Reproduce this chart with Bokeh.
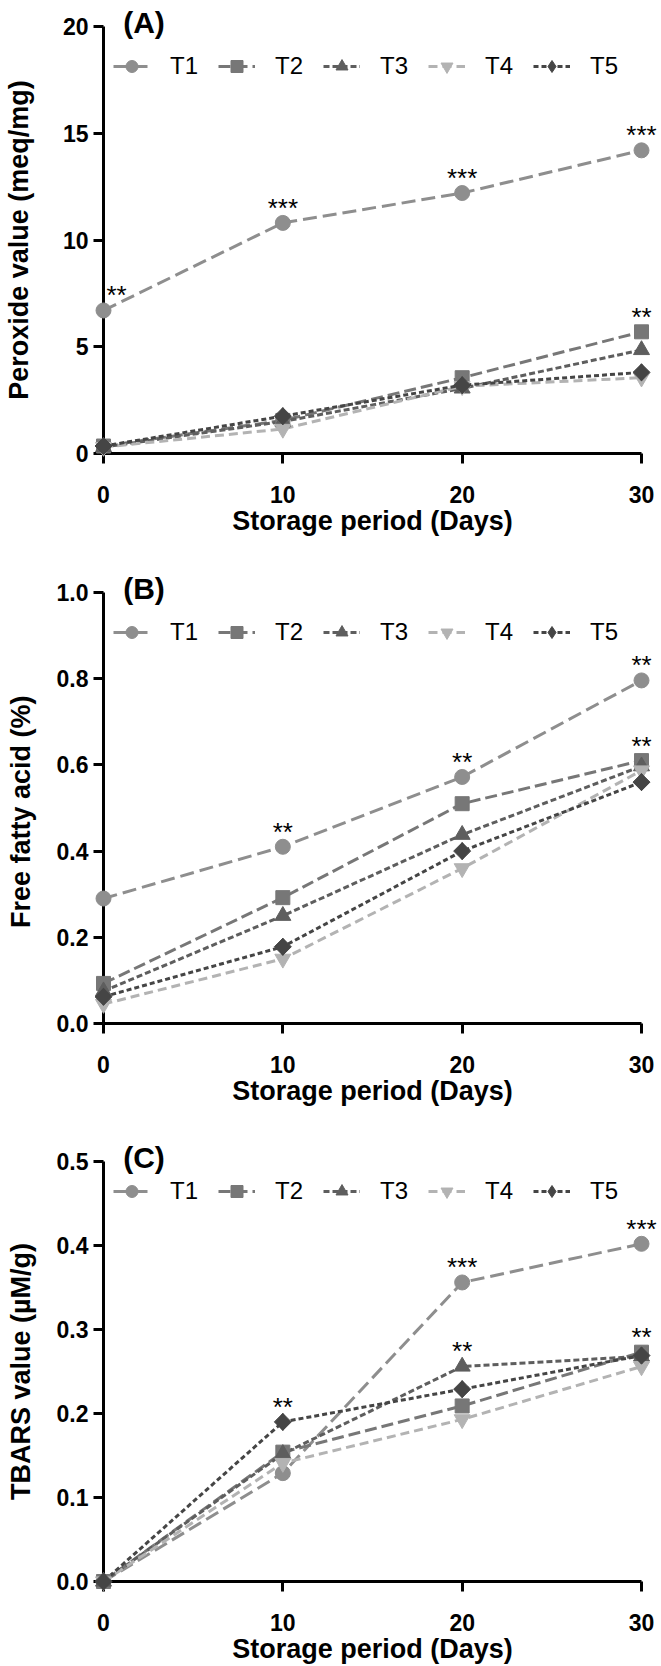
import math
from bokeh.plotting import figure
from bokeh.layouts import column
from bokeh.models import (Range1d, FixedTicker, NumeralTickFormatter, Legend, LegendItem,
                          ColumnDataSource, LinearAxis)
from bokeh.embed import file_html
from bokeh.resources import INLINE
from bokeh.core.properties import value

# ---------------- data ----------------
days = [0, 10, 20, 30]
series_names = ["T1", "T2", "T3", "T4", "T5"]

peroxide_T1 = [6.7, 10.8, 12.2, 14.2]
peroxide_T2 = [0.35, 1.55, 3.55, 5.7]
peroxide_T3 = [0.3, 1.5, 3.05, 4.85]
peroxide_T4 = [0.3, 1.15, 3.15, 3.55]
peroxide_T5 = [0.35, 1.75, 3.2, 3.8]

ffa_T1 = [0.29, 0.41, 0.572, 0.796]
ffa_T2 = [0.093, 0.292, 0.51, 0.61]
ffa_T3 = [0.075, 0.25, 0.438, 0.597]
ffa_T4 = [0.045, 0.15, 0.36, 0.587]
ffa_T5 = [0.062, 0.178, 0.40, 0.56]

tbars_T1 = [0.0, 0.129, 0.356, 0.402]
tbars_T2 = [0.0, 0.154, 0.209, 0.273]
tbars_T3 = [0.0, 0.152, 0.256, 0.268]
tbars_T4 = [0.0, 0.141, 0.193, 0.256]
tbars_T5 = [0.0, 0.190, 0.229, 0.269]

x_ticks = [0, 10, 20, 30]
peroxide_ticks = [0, 5, 10, 15, 20]
ffa_ticks = [0.0, 0.2, 0.4, 0.6, 0.8, 1.0]
tbars_ticks = [0.0, 0.1, 0.2, 0.3, 0.4, 0.5]

# significance marks: (series, day, text)
peroxide_stars = [("T1", 0, "**"), ("T1", 10, "***"), ("T1", 20, "***"), ("T1", 30, "***"), ("T2", 30, "**")]
ffa_stars = [("T1", 10, "**"), ("T1", 20, "**"), ("T1", 30, "**"), ("T2", 30, "**")]
tbars_stars = [("T5", 10, "**"), ("T1", 20, "***"), ("T3", 20, "**"), ("T1", 30, "***"), ("T2", 30, "**")]

# ---------------- styles ----------------
colors = ["#8e8e8e", "#777777", "#5e5e5e", "#b3b3b3", "#454545"]
dashes = ["14 6", "12 5", "6 3", "9 5", "5 3"]
markers = ["circle", "square", "triangle", "inverted_triangle", "diamond"]
msizes = [15, 14, 16, 16, 17]

FONT = "Liberation Sans"


def make_panel(data, ticks, fmt, ylabel, tag, stars, fig_h, b_top, b_bot,
               legend_y, ylab_standoff, xlab_standoff):
    p = figure(width=661, height=fig_h, output_backend="svg", toolbar_location=None,
               x_range=Range1d(0, 30), y_range=Range1d(ticks[0], ticks[-1]),
               min_border_left=98, min_border_right=20, min_border_top=b_top,
               min_border_bottom=b_bot, x_axis_location=None, y_axis_location=None)
    p.title.visible = False
    p.grid.visible = False
    p.outline_line_color = None
    p.background_fill_color = "white"
    p.border_fill_color = "white"

    xaxis = LinearAxis(ticker=FixedTicker(ticks=x_ticks), axis_label="Storage period (Days)")
    yaxis = LinearAxis(ticker=FixedTicker(ticks=ticks), formatter=NumeralTickFormatter(format=fmt),
                       axis_label=ylabel)
    for ax in (xaxis, yaxis):
        ax.axis_line_width = 3
        ax.axis_line_color = "black"
        ax.major_tick_line_width = 3
        ax.major_tick_line_color = "black"
        ax.major_tick_out = 10
        ax.major_tick_in = 0
        ax.minor_tick_out = 0
        ax.minor_tick_in = 0
        ax.major_label_text_font = FONT
        ax.major_label_text_font_style = "bold"
        ax.major_label_text_font_size = "23px"
        ax.major_label_text_color = "black"
        ax.axis_label_text_font = FONT
        ax.axis_label_text_font_style = "bold"
        ax.axis_label_text_font_size = "27px"
        ax.axis_label_text_color = "black"
    xaxis.major_label_standoff = 22
    xaxis.axis_label_standoff = xlab_standoff
    yaxis.major_label_standoff = 5
    yaxis.axis_label_standoff = ylab_standoff
    p.add_layout(xaxis, "below")
    p.add_layout(yaxis, "left")

    items = []
    for name, vals, c, d, m, s in zip(series_names, data, colors, dashes, markers, msizes):
        lr = p.line(days, vals, line_color=c, line_width=3, line_dash=d)
        sr = p.scatter(days, vals, marker=m, size=s, fill_color=c, line_color=c,
                       level="overlay")
        if m == "diamond":
            # widen the diamond with a 45-degree square on top
            p.scatter(days, vals, marker="square", angle=math.pi / 4, size=12,
                      fill_color=c, line_color=c, level="overlay")
        items.append(LegendItem(label=name, renderers=[lr, sr]))

    legend = Legend(items=items, orientation="horizontal", location=(10, legend_y),
                    padding=0, spacing=20, glyph_width=37, glyph_height=30, label_standoff=20,
                    label_text_font=FONT, label_text_font_size="24px", label_text_color="black",
                    border_line_color=None, background_fill_alpha=0, margin=0)
    p.add_layout(legend)

    lookup = dict(zip(series_names, data))
    sx, sy, st, sdx = [], [], [], []
    for name, day, txt in stars:
        sx.append(day)
        sy.append(lookup[name][days.index(day)])
        st.append(txt)
        sdx.append(13 if day == 0 else 0)
    src = ColumnDataSource(dict(x=sx, y=sy, t=st, dx=sdx))
    p.text(x="x", y="y", text="t", source=src, x_offset="dx", y_offset=-15,
           text_align="center", text_baseline="alphabetic", text_color="black",
           text_font=value(FONT), text_font_size="26px", level="overlay")

    tag_src = ColumnDataSource(dict(x=[x_ticks[0]], y=[ticks[-1]], t=[tag]))
    p.text(x="x", y="y", text="t", source=tag_src, x_offset=40.5, y_offset=-4,
           text_align="center", text_baseline="middle", text_color="black",
           text_font=value(FONT), text_font_style="bold", text_font_size="30px",
           level="overlay")
    return p


pA = make_panel([peroxide_T1, peroxide_T2, peroxide_T3, peroxide_T4, peroxide_T5],
                peroxide_ticks, "0", "Peroxide value (meq/mg)", "(A)", peroxide_stars,
                560, 26, 107, 372, 26, 0)
pB = make_panel([ffa_T1, ffa_T2, ffa_T3, ffa_T4, ffa_T5],
                ffa_ticks, "0.0", "Free  fatty acid (%)", "(B)", ffa_stars,
                570, 32, 107, 376, 18, 0)
pC = make_panel([tbars_T1, tbars_T2, tbars_T3, tbars_T4, tbars_T5],
                tbars_ticks, "0.0", "TBARS value (\u00b5M/g)", "(C)", tbars_stars,
                536, 31, 80, 375, 18, 0)

layout = column(pA, pB, pC, spacing=0)
open("out.html", "w").write(file_html(layout, INLINE))
